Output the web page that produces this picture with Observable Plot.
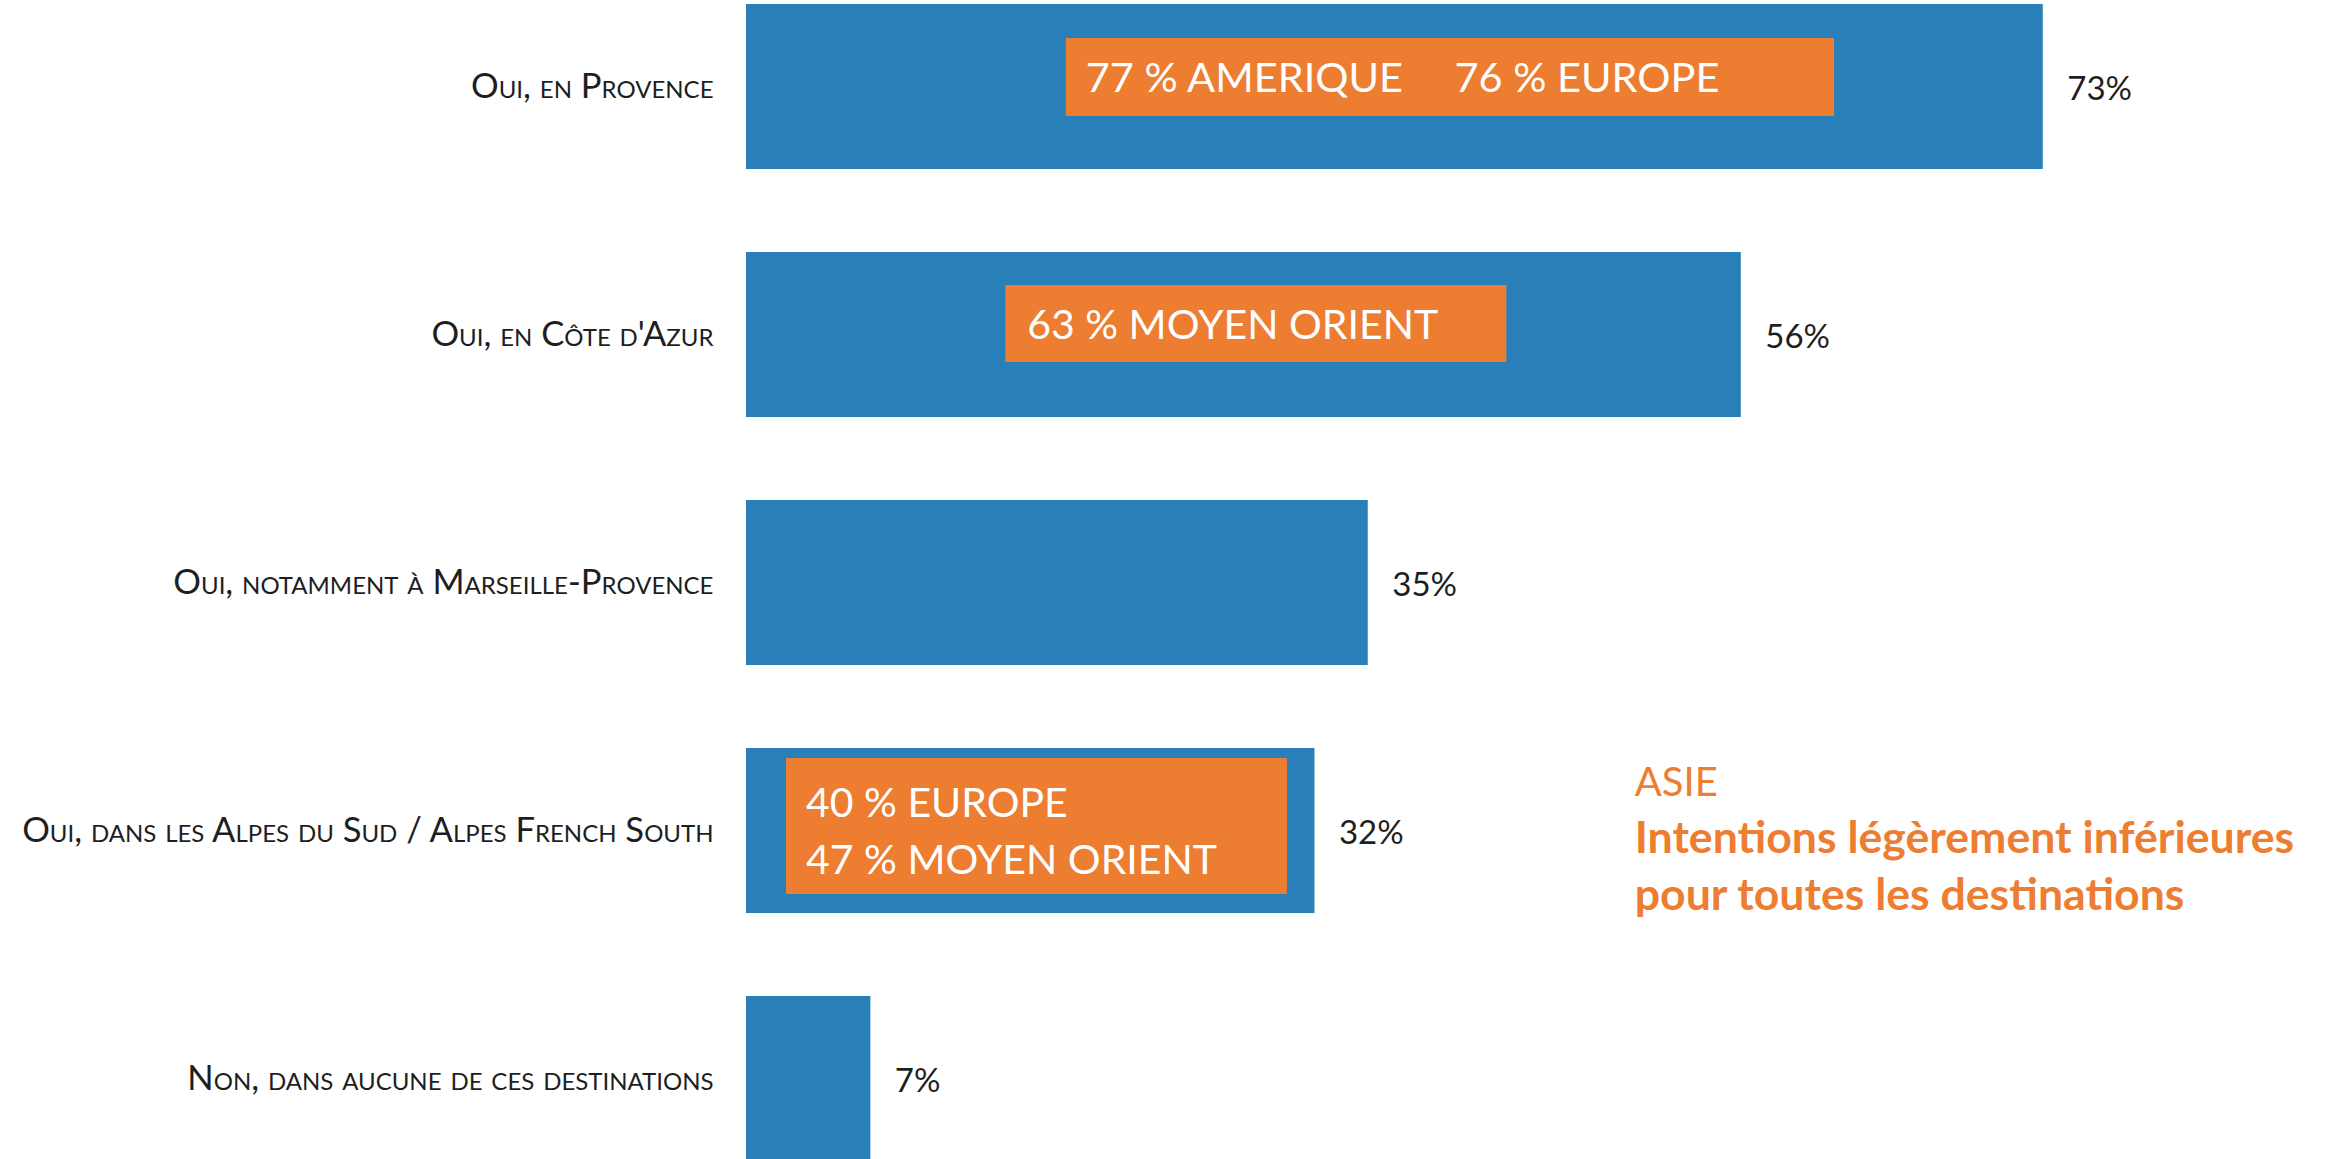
<!DOCTYPE html>
<html>
<head>
<meta charset="utf-8">
<script src="https://cdn.jsdelivr.net/npm/d3@7"></script>
<script src="https://cdn.jsdelivr.net/npm/@observablehq/plot@0.6"></script>
<style>
  html, body { margin: 0; padding: 0; background: #ffffff; overflow: hidden; }
  #chart svg { display: block; }
</style>
</head>
<body>
<div id="chart"></div>
<script>
// ---- data ----
const categories = [
  "Oui, en Provence",
  "Oui, en Côte d'Azur",
  "Oui, notamment à Marseille-Provence",
  "Oui, dans les Alpes du Sud / Alpes French South",
  "Non, dans aucune de ces destinations"
];
const values = [73, 56, 35, 32, 7];
const valueLabels = ["73%", "56%", "35%", "32%", "7%"];

// highlighted sub-results (orange boxes), in percentage units of the x axis
const highlightRows = [categories[0], categories[1], categories[3]];
const highlightFrom = [18.0, 14.6, 2.25];
const highlightTo = [61.25, 42.8, 30.45];
const highlightTextRows = [categories[0], categories[0], categories[1], categories[3]];
const highlightTextAt = [19.1, 39.85, 15.8, 3.35];
const highlightTexts = ["77 % AMERIQUE", "76 % EUROPE", "63 % MOYEN ORIENT", "40 % EUROPE\n47 % MOYEN ORIENT"];

const noteRow = categories[3];
const noteAt = 50;
const noteTitle = "ASIE";
const noteBody = "Intentions légèrement inférieures\npour toutes les destinations";

// ---- derived tables ----
const bars = categories.map((c, i) => ({cat: c, value: values[i], label: valueLabels[i]}));
const boxes = highlightRows.map((c, i) => ({cat: c, x1: highlightFrom[i], x2: highlightTo[i]}));
const boxTexts = highlightTextRows.map((c, i) => ({cat: c, x: highlightTextAt[i], text: highlightTexts[i]}));

const BLUE = "#2980b9";
const ORANGE = "#ed7d31";
const FONT = "Lato, 'Open Sans', sans-serif";

const chart = Plot.plot({
  width: 2331,
  height: 1159,
  marginLeft: 746,
  marginRight: 4,
  marginTop: 4,
  marginBottom: -2,
  style: {fontFamily: FONT, background: "#ffffff"},
  x: {domain: [0, 89], axis: null},
  y: {domain: categories, axis: null, paddingInner: 0.335, paddingOuter: 0},
  marks: [
    Plot.barX(bars, {x: "value", y: "cat", fill: BLUE}),
    // orange highlight boxes
    Plot.rectX([boxes[0]], {x1: "x1", x2: "x2", y: "cat", fill: ORANGE, insetTop: 34, insetBottom: 53}),
    Plot.rectX([boxes[1]], {x1: "x1", x2: "x2", y: "cat", fill: ORANGE, insetTop: 33, insetBottom: 55}),
    Plot.rectX([boxes[2]], {x1: "x1", x2: "x2", y: "cat", fill: ORANGE, insetTop: 10, insetBottom: 19}),
    Plot.text(boxTexts.slice(0, 2), {x: "x", y: "cat", text: "text", textAnchor: "start", fill: "white", fontSize: 41.5, dy: -8.5}),
    Plot.text(boxTexts.slice(2, 3), {x: "x", y: "cat", text: "text", textAnchor: "start", fill: "white", fontSize: 41, dy: -9.5}),
    Plot.text(boxTexts.slice(3, 4), {x: "x", y: "cat", text: "text", textAnchor: "start", fill: "white", fontSize: 41, lineHeight: 1.39, dy: -4}),
    // category labels
    Plot.text(bars, {y: "cat", text: "cat", frameAnchor: "left", textAnchor: "end", dx: -33, fontSize: 34.6, fontVariant: "small-caps", fill: "#1e1e1e"}),
    // value labels
    Plot.text(bars, {x: "value", y: "cat", text: "label", textAnchor: "start", dx: 24, dy: 2, fontSize: 33, fill: "#1e1e1e"}),
    // note
    Plot.text([{cat: noteRow, x: noteAt, t: noteTitle}], {x: "x", y: "cat", text: "t", textAnchor: "start", lineAnchor: "bottom", dy: -35.5, fontSize: 40, fill: ORANGE}),
    Plot.text([{cat: noteRow, x: noteAt, t: noteBody}], {x: "x", y: "cat", text: "t", textAnchor: "start", lineAnchor: "bottom", dy: 78.5, fontSize: 44.6, lineHeight: 1.26, fontWeight: "bold", fill: ORANGE})
  ]
});
document.getElementById("chart").append(chart);
</script>
</body>
</html>
